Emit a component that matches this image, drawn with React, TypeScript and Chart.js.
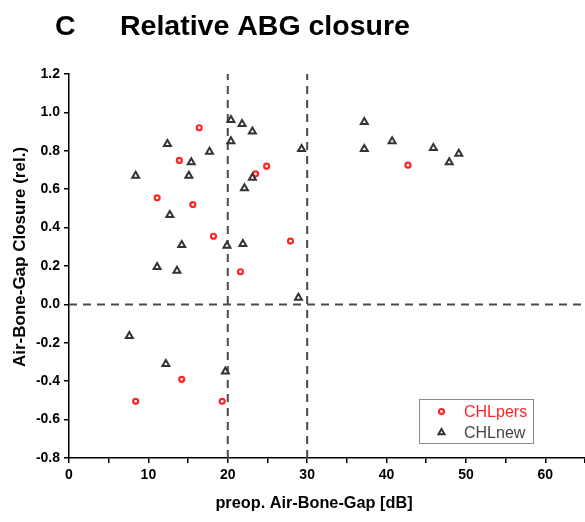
import React, { useEffect, useRef } from "react";
import { Chart, registerables } from "chart.js";

Chart.register(...registerables);

// ---- data ----
const persX = [16.4, 13.9, 11.1, 15.6, 18.2, 21.6, 23.5, 24.9, 42.7, 27.9, 14.2, 8.4, 19.3];
const persY = [0.92, 0.75, 0.555, 0.52, 0.355, 0.17, 0.68, 0.72, 0.725, 0.33, -0.39, -0.505, -0.505];

const newX = [20.4, 21.8, 23.1, 20.4, 12.4, 17.7, 15.4, 8.4, 15.1, 23.1, 22.1, 12.7, 14.2, 19.9, 21.9, 11.1, 13.6, 29.3, 37.2, 37.2, 40.7, 45.9, 47.9, 49.1, 28.9, 7.6, 12.2, 19.7];
const newY = [0.96, 0.94, 0.9, 0.85, 0.835, 0.795, 0.74, 0.67, 0.67, 0.66, 0.605, 0.465, 0.31, 0.305, 0.315, 0.195, 0.175, 0.81, 0.95, 0.81, 0.85, 0.815, 0.74, 0.785, 0.035, -0.165, -0.31, -0.35];

const refX = [20, 30];
const refY = [0];

const xRange = [0, 65];
const yRange = [-0.8, 1.2];
const xStep = 5;
const yStep = 0.2;

const seriesNames = ["CHLpers", "CHLnew"];
const panelLetter = "C";
const titleText = "Relative ABG closure";
const xTitle = "preop. Air-Bone-Gap [dB]";
const yTitle = "Air-Bone-Gap Closure (rel.)";

const FONT = '"Liberation Sans", Arial, Helvetica, sans-serif';
const RED = "#ff2424";
const DARK = "#333333";

function drawSymbol(ctx: CanvasRenderingContext2D, style: string, x: number, y: number, r: number) {
  ctx.beginPath();
  if (style === "triangle") {
    const a = (2 * Math.PI) / 3;
    ctx.moveTo(x, y - r);
    ctx.lineTo(x + Math.sin(a) * r, y - Math.cos(a) * r);
    ctx.lineTo(x + Math.sin(2 * a) * r, y - Math.cos(2 * a) * r);
    ctx.closePath();
  } else {
    ctx.arc(x, y, r, 0, Math.PI * 2);
  }
  ctx.fill();
  ctx.stroke();
}

const textPlugin = {
  id: "customTexts",
  afterDraw(chart: any) {
    const ctx: CanvasRenderingContext2D = chart.ctx;
    ctx.save();
    ctx.fillStyle = "#000";
    ctx.textBaseline = "alphabetic";
    ctx.textAlign = "left";
    ctx.font = `bold 28.5px ${FONT}`;
    ctx.fillText(panelLetter, 55, 35);
    ctx.fillText(titleText, 120, 35);

    ctx.font = `bold 16.3px ${FONT}`;
    ctx.textAlign = "center";
    ctx.fillText(xTitle, 314, 508);

    ctx.font = `bold 17px ${FONT}`;
    ctx.save();
    ctx.translate(25, 257);
    ctx.rotate(-Math.PI / 2);
    ctx.fillText(yTitle, 0, 0);
    ctx.restore();

    // legend
    const bx = 419.5, by = 399.5, bw = 114, bh = 44;
    ctx.strokeStyle = "#8a8a8a";
    ctx.lineWidth = 1;
    ctx.strokeRect(bx, by, bw, bh);
    const items = chart.data.datasets.filter((d: any) => seriesNames.includes(d.label));
    items.sort((a: any, b: any) => seriesNames.indexOf(a.label) - seriesNames.indexOf(b.label));
    ctx.font = `16px ${FONT}`;
    ctx.textAlign = "left";
    ctx.textBaseline = "middle";
    items.forEach((d: any, i: number) => {
      const cy = 411.5 + i * 21;
      ctx.fillStyle = d.pointBackgroundColor;
      ctx.strokeStyle = d.pointBorderColor;
      ctx.lineWidth = d.pointBorderWidth;
      drawSymbol(ctx, d.pointStyle, 441.5, cy, d.pointStyle === "triangle" ? 3.5 : 2.5);
      ctx.fillStyle = d.legendColor;
      ctx.fillText(d.label, 464, cy + 1);
    });
    ctx.restore();
  },
};

export default function App() {
  const ref = useRef<HTMLCanvasElement | null>(null);

  useEffect(() => {
    if (!ref.current) return;
    const refLine = {
      type: "line" as const,
      borderColor: "#4a4a4a",
      borderWidth: 2,
      borderDash: [8, 6],
      pointRadius: 0,
      fill: false,
      order: 3,
    };
    const datasets: any[] = [
      ...refX.map((v, i) => ({
        ...refLine,
        label: "refx" + i,
        data: [
          { x: v, y: yRange[0] },
          { x: v, y: yRange[1] },
        ],
      })),
      ...refY.map((v, i) => ({
        ...refLine,
        label: "refy" + i,
        data: [
          { x: xRange[0], y: v },
          { x: xRange[1], y: v },
        ],
      })),
      {
        type: "scatter",
        label: seriesNames[0],
        data: persX.map((x, i) => ({ x, y: persY[i] })),
        pointStyle: "circle",
        pointRadius: 2.5,
        pointBorderWidth: 2.2,
        pointBorderColor: RED,
        pointBackgroundColor: "#ffffff",
        legendColor: RED,
        order: 1,
      },
      {
        type: "scatter",
        label: seriesNames[1],
        data: newX.map((x, i) => ({ x, y: newY[i] })),
        pointStyle: "triangle",
        pointRadius: 4,
        pointBorderWidth: 2,
        pointBorderColor: DARK,
        pointBackgroundColor: "#ffffff",
        legendColor: "#444444",
        order: 0,
      },
    ];

    const chart = new Chart(ref.current, {
      type: "scatter",
      data: { datasets },
      plugins: [textPlugin],
      options: {
        responsive: false,
        animation: false,
        layout: { autoPadding: false, padding: { top: 74, right: 0, left: 0, bottom: 0 } },
        plugins: {
          legend: { display: false },
          tooltip: { enabled: false },
          title: { display: false },
        },
        scales: {
          x: {
            type: "linear",
            min: xRange[0],
            max: xRange[1],
            afterFit: (s: any) => {
              s.height = 64;
              s.paddingRight = 0;
              s.paddingLeft = 0;
            },
            border: { display: true, color: "#000", width: 1.5 },
            grid: {
              drawOnChartArea: false,
              drawTicks: true,
              tickLength: 5,
              color: "#000",
              lineWidth: 1.5,
            },
            ticks: {
              stepSize: xStep,
              autoSkip: false,
              maxRotation: 0,
              padding: 4,
              color: "#000",
              font: { family: FONT, size: 14, weight: "bold" },
              callback: (v: any) => (Number(v) % 10 === 0 ? String(v) : ""),
            },
          },
          y: {
            type: "linear",
            min: yRange[0],
            max: yRange[1],
            afterFit: (s: any) => {
              s.width = 69;
            },
            border: { display: true, color: "#000", width: 1.5 },
            grid: {
              drawOnChartArea: false,
              drawTicks: true,
              tickLength: 5,
              color: "#000",
              lineWidth: 1.5,
            },
            ticks: {
              stepSize: yStep,
              autoSkip: false,
              padding: 4,
              color: "#000",
              font: { family: FONT, size: 14, weight: "bold" },
              callback: (v: any) => Number(v).toFixed(1),
            },
          },
        },
      } as any,
    });
    return () => chart.destroy();
  }, []);

  return (
    <div style={{ position: "fixed", left: 0, top: 0, width: 585, height: 522, background: "#fff" }}>
      <canvas ref={ref} width={585} height={522} style={{ width: 585, height: 522, display: "block" }} />
    </div>
  );
}
